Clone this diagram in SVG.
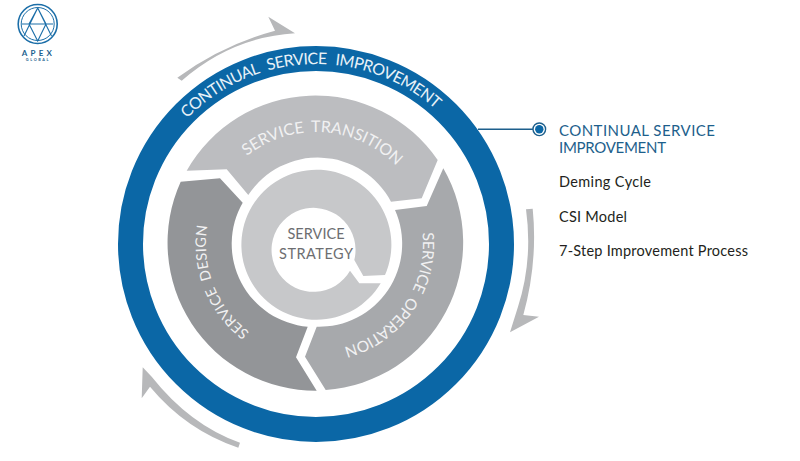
<svg xmlns="http://www.w3.org/2000/svg" width="800" height="461" viewBox="0 0 800 461">
<style>
text{font-family:"Lato","Open Sans","Liberation Sans",sans-serif}
.seg{fill:#f1f1f2;font-size:15.5px}
.side{fill:#231f20;font-size:14.5px}
.head{fill:#1d5f8c;font-size:15px}
.arrow{fill:#b7b8ba}
.logo{fill:none;stroke:#1b6ea8}
</style>
<defs>
<path id="p-csi" d="M187.2,118.6 A180,180 0 0 1 441.5,114.8"/>
<path id="p-st" d="M246.8,156 A112,112 0 0 1 396.3,165.9"/>
<path id="p-so" d="M422.4,232.8 A107,107 0 0 1 345.5,346.9"/>
<path id="p-sd" d="M249.5,332.1 A110,110 0 0 1 207.5,225.8"/>
</defs>
<rect width="800" height="461" fill="#fff"/>
<g id="logo">
<circle class="logo" cx="37.7" cy="24" r="19.5" stroke-width="1.6"/>
<circle class="logo" cx="37.7" cy="24" r="16.5" stroke-width="1"/>
<path class="logo" stroke-width="1.1" d="M37.7,8 L24,36 M37.7,8 L51.5,36 M37.7,8 L29,24 L37.7,41 L46,24 Z M22,24 H53"/>
<text x="38.5" y="55.5" text-anchor="middle" font-size="8" font-weight="700" letter-spacing="3.2" fill="#1b5f8f">APEX</text>
<text x="38" y="61" text-anchor="middle" font-size="3.8" font-weight="700" letter-spacing="1.6" fill="#1b5f8f">GLOBAL</text>
</g>
<g id="arrows">
<path class="arrow" d="M177.3,77.7 Q222,45 275,30.7 L268.3,16.7 L295,33.3 Q232,37 181.7,80.7 Z"/>
<path class="arrow" d="M526,209.3 L532.7,208.7 Q538,262 523.3,315 L539,316.7 L510,332.3 L518,306.7 Q533,260 526,209.3 Z"/>
<path class="arrow" d="M238.3,447.7 L240,442.7 Q190,425 151.7,376.7 L142.7,367.3 L141.7,398.3 L150,386.7 Q186,430 238.3,447.7 Z"/>
</g>
<g id="continual-service-improvement">
<circle cx="316" cy="244" r="185.5" fill="none" stroke="#0b67a6" stroke-width="25"/>
<text style="font-size:16px;fill:#e8f2f8" word-spacing="5"><textPath href="#p-csi" textLength="274" lengthAdjust="spacing">CONTINUAL SERVICE IMPROVEMENT</textPath></text>
</g>
<g id="service-transition">
<path fill="#bcbdc0" d="M186.7,170.7 A148,148 0 0 1 437.7,160 L421.7,198.3 L391,201.7 A83,83 0 0 0 248.3,195 L226.7,169.3 Z"/>
<text class="seg" style="font-size:16px" word-spacing="3"><textPath href="#p-st" textLength="164" lengthAdjust="spacing">SERVICE TRANSITION</textPath></text>
</g>
<g id="service-operation">
<path fill="#a7a9ac" d="M443.3,168.3 A148,148 0 0 1 325.7,390 L305,356.7 L316.7,326.7 A83,83 0 0 0 395,210 L426.7,206 Z"/>
<text class="seg" word-spacing="3"><textPath href="#p-so" textLength="151" lengthAdjust="spacing">SERVICE OPERATION</textPath></text>
</g>
<g id="service-design">
<path fill="#939598" d="M180.7,181.7 L220,178.3 L242.7,202.7 A83,83 0 0 0 307.7,326.7 L296,357.3 L316.7,390.7 A148,148 0 0 1 180.7,181.7 Z"/>
<text class="seg" style="font-size:14.5px" word-spacing="3"><textPath href="#p-sd" textLength="120" lengthAdjust="spacing">SERVICE DESIGN</textPath></text>
</g>
<g id="service-strategy">
<path fill="#c7c8ca" d="M380.7,283.3 A75,75 0 1 1 385,275 L363.3,276 L354.3,260 A42,42 0 1 0 350,270.7 L359.3,283.3 Z"/>
<text x="316" y="239" text-anchor="middle" font-size="14.5" textLength="57" fill="#6d6e71">SERVICE</text>
<text x="316" y="258.5" text-anchor="middle" font-size="14.5" textLength="74" fill="#6d6e71">STRATEGY</text>
</g>
<g id="connectors">
<line x1="478" y1="129.3" x2="533" y2="129.3" stroke="#1d5f8c" stroke-width="1.5"/>
</g>
<g id="marker">
<circle cx="539.3" cy="129.3" r="6.3" fill="#fff" stroke="#1d5f8c" stroke-width="1.4"/>
<circle cx="539.3" cy="129.3" r="4.2" fill="#0b67a6"/>
</g>
<g id="legend">
<text class="head" x="559" y="136" textLength="156">CONTINUAL SERVICE</text>
<text class="head" x="559" y="152.7" textLength="107">IMPROVEMENT</text>
<text class="side" x="559" y="187" textLength="92">Deming Cycle</text>
<text class="side" x="559" y="221.7" textLength="68">CSI Model</text>
<text class="side" x="559" y="256" textLength="189">7-Step Improvement Process</text>
</g>
</svg>
